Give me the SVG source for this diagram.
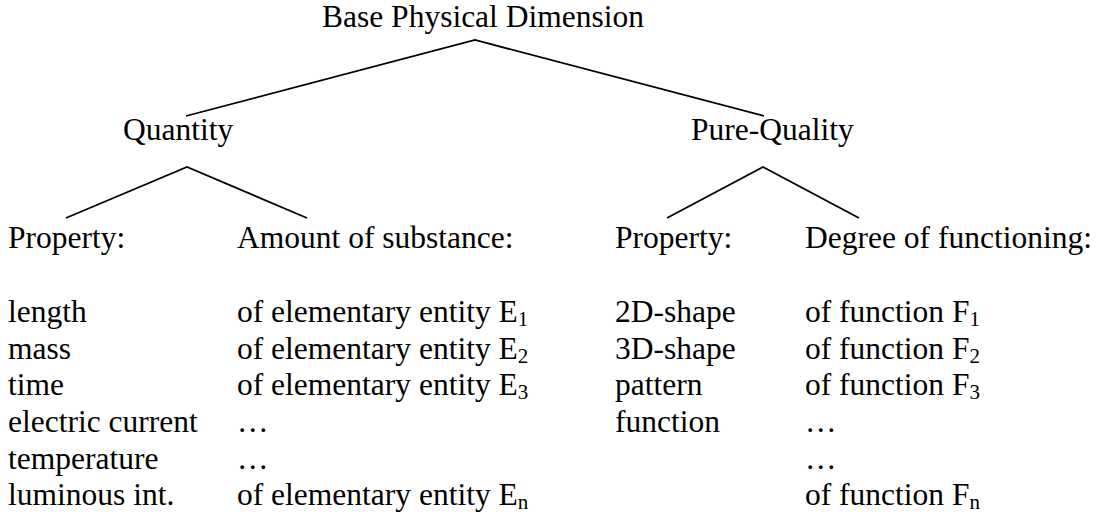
<svg xmlns="http://www.w3.org/2000/svg" width="1096" height="512" viewBox="0 0 1096 512">
  <style>
    text { font-family: 'Liberation Serif', 'DejaVu Serif', serif; font-size: 31.5px; fill: #000; }
    .sub { font-size: 21px; }
    .edge { stroke: #000; stroke-width: 1.8; fill: none; }
  </style>
  <rect width="1096" height="512" fill="#fff"/>

  <!-- tree branches -->
  <g id="connectors">
    <polyline class="edge" points="186,116 475,40 764,116"/>
    <polyline class="edge" points="66,218 187,167 307,218"/>
    <polyline class="edge" points="667,218 763,167 859,218"/>
  </g>

  <g id="root" font-family="Liberation Serif, serif">
    <text x="322" y="27">Base Physical Dimension</text>
  </g>

  <g id="quantity">
    <text x="123" y="140">Quantity</text>
  </g>

  <g id="pure-quality">
    <text x="691" y="140">Pure-Quality</text>
  </g>

  <!-- Quantity: properties -->
  <g id="quantity-property">
    <text x="8" y="248">Property:</text>
    <text x="8" y="322">length</text>
    <text x="8" y="358.5">mass</text>
    <text x="8" y="395">time</text>
    <text x="8" y="432">electric current</text>
    <text x="8" y="468.5">temperature</text>
    <text x="8" y="505">luminous int.</text>
  </g>

  <!-- Quantity: amount of substance -->
  <g id="quantity-amount">
    <text x="237" y="248">Amount of substance:</text>
    <text x="237" y="322">of elementary entity E<tspan class="sub" dy="4">1</tspan></text>
    <text x="237" y="358.5">of elementary entity E<tspan class="sub" dy="4">2</tspan></text>
    <text x="237" y="395">of elementary entity E<tspan class="sub" dy="4">3</tspan></text>
    <text x="237" y="432">…</text>
    <text x="237" y="468.5">…</text>
    <text x="237" y="505">of elementary entity E<tspan class="sub" dy="4">n</tspan></text>
  </g>

  <!-- Pure-Quality: properties -->
  <g id="quality-property">
    <text x="615" y="248">Property:</text>
    <text x="615" y="322">2D-shape</text>
    <text x="615" y="358.5">3D-shape</text>
    <text x="615" y="395">pattern</text>
    <text x="615" y="432">function</text>
  </g>

  <!-- Pure-Quality: degree of functioning -->
  <g id="quality-degree">
    <text x="805" y="248">Degree of functioning:</text>
    <text x="805" y="322">of function F<tspan class="sub" dy="4">1</tspan></text>
    <text x="805" y="358.5">of function F<tspan class="sub" dy="4">2</tspan></text>
    <text x="805" y="395">of function F<tspan class="sub" dy="4">3</tspan></text>
    <text x="805" y="432">…</text>
    <text x="805" y="468.5">…</text>
    <text x="805" y="505">of function F<tspan class="sub" dy="4">n</tspan></text>
  </g>
</svg>
